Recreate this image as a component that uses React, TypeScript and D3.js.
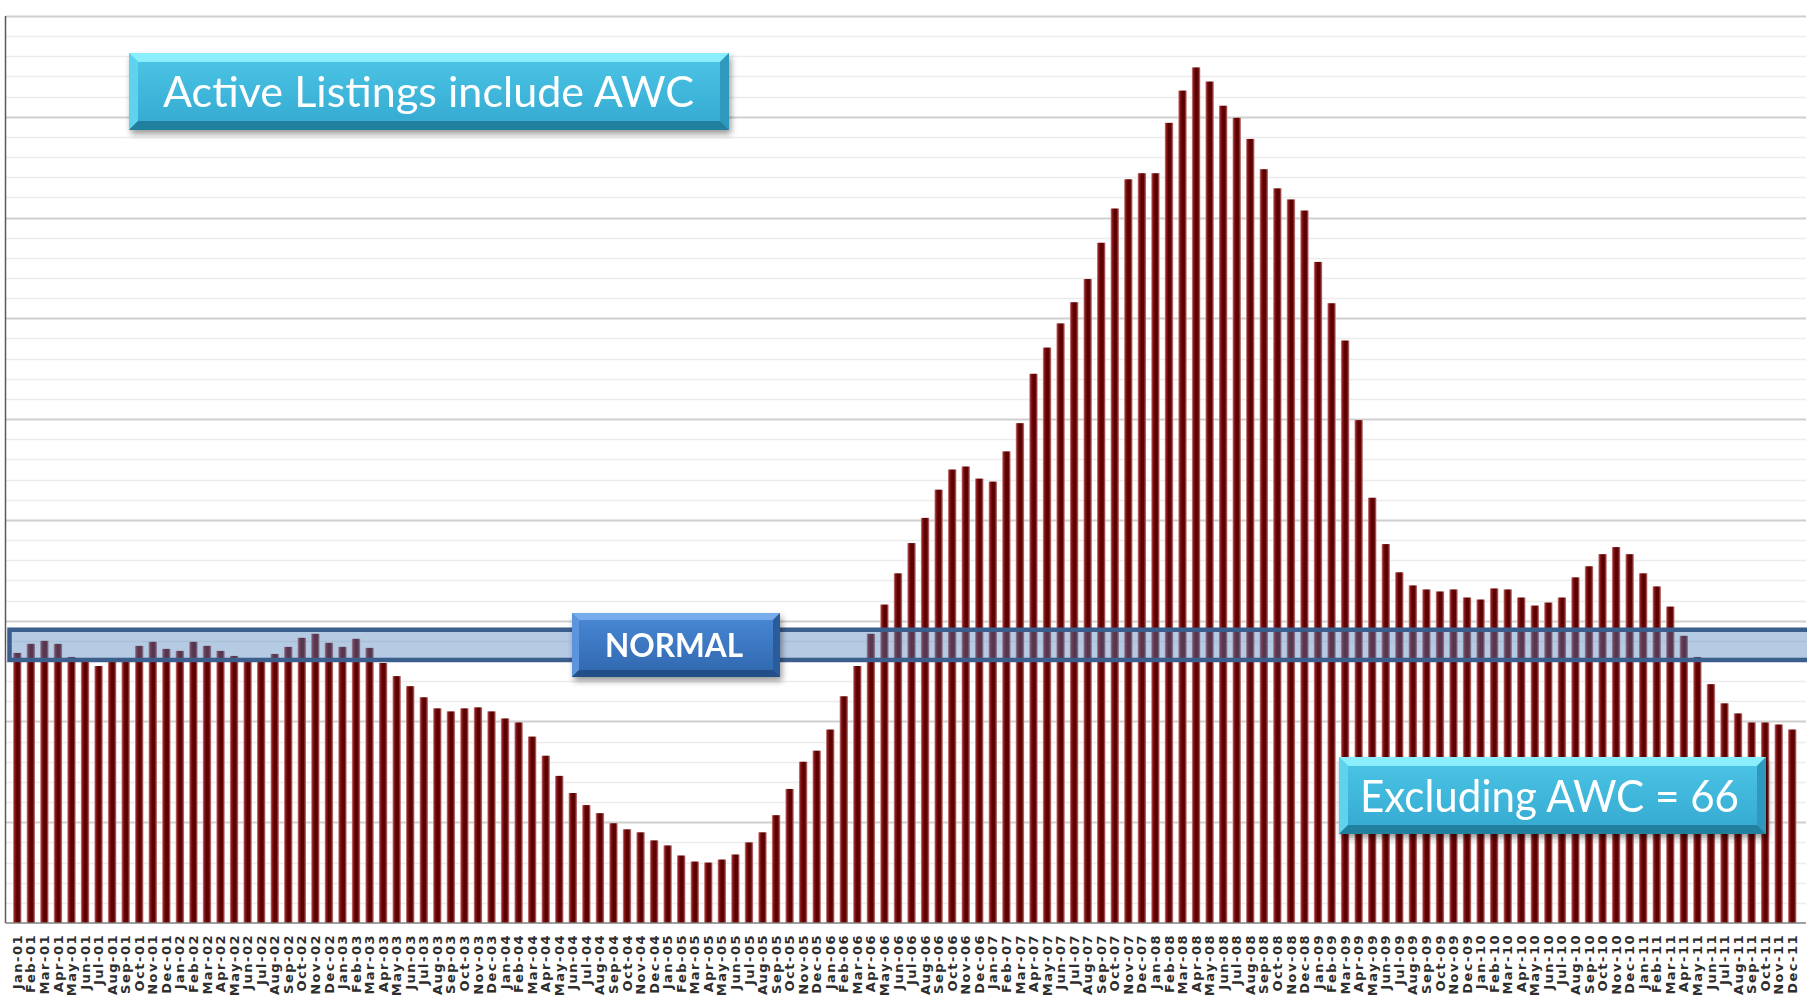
import React from "react";
import * as d3 from "d3";

// month / year tick labels
const MONTHS = ["Jan", "Feb", "Mar", "Apr", "May", "Jun", "Jul", "Aug", "Sep", "Oct", "Nov", "Dec"];
const YEARS = ["01", "02", "03", "04", "05", "06", "07", "08", "09", "10", "11"];

// active listings per month (arbitrary units, no axis labels)
const listings2001 = [268, 277, 280, 277, 264, 260, 255, 259, 259, 275, 279, 272];
const listings2002 = [270, 279, 275, 270, 265, 259, 259, 267, 274, 283, 287, 278];
const listings2003 = [274, 282, 273, 258, 245, 235, 224, 213, 210, 213, 214, 210];
const listings2004 = [203, 199, 185, 166, 146, 129, 117, 109, 99, 93, 90, 82];
const listings2005 = [77, 67, 61, 60, 63, 68, 80, 90, 107, 133, 160, 171];
const listings2006 = [192, 225, 255, 287, 316, 347, 377, 402, 430, 450, 453, 441];
const listings2007 = [438, 468, 496, 545, 571, 595, 616, 639, 675, 709, 738, 744];
const listings2008 = [744, 794, 826, 849, 835, 811, 799, 778, 748, 729, 718, 707];
const listings2009 = [656, 615, 578, 499, 422, 376, 348, 335, 331, 329, 331, 323];
const listings2010 = [321, 332, 331, 323, 315, 318, 323, 343, 354, 366, 373, 366];
const listings2011 = [347, 334, 314, 285, 264, 237, 218, 208, 199, 199, 197, 192];

// "normal" range band
const normalLow = 261;
const normalHigh = 291;

const yMax = 900;
const minorStep = 20;
const majorStep = 100;

const categories = YEARS.flatMap((yr) => MONTHS.map((m) => `${m}-${yr}`));
const values = [
  ...listings2001, ...listings2002, ...listings2003, ...listings2004,
  ...listings2005, ...listings2006, ...listings2007, ...listings2008,
  ...listings2009, ...listings2010, ...listings2011,
];
const data = categories.map((c, i) => ({ month: c, value: values[i] }));

const width = 1807;
const height = 995;
const plotLeft = 5.5;
const plotRight = 1806;
const plotTop = 16;
const plotBottom = 923;

type CalloutProps = {
  x: number; y: number; w: number; h: number;
  text: string; textX: number; baseline: number; textLen: number;
  fontSize: number; bold?: boolean; palette: "cyan" | "blue";
};

function Callout({ x, y, w, h, text, textX, baseline, textLen, fontSize, bold, palette }: CalloutProps) {
  const b = palette === "cyan" ? 9 : 7;
  const c = palette === "cyan"
    ? { top: "#8aeefc", left: "#5fd2ee", right: "#2d98bd", bottom: "#22809f", grad: "gradCyan" }
    : { top: "#76acec", left: "#5b95dc", right: "#2c5c9c", bottom: "#234f88", grad: "gradBlue" };
  return (
    <g filter="url(#shadow)">
      <rect x={x} y={y} width={w} height={h} fill={`url(#${c.grad})`} />
      <polygon points={`${x},${y} ${x + w},${y} ${x + w - b},${y + b} ${x + b},${y + b}`} fill={c.top} />
      <polygon points={`${x},${y} ${x + b},${y + b} ${x + b},${y + h - b} ${x},${y + h}`} fill={c.left} />
      <polygon points={`${x + w},${y} ${x + w},${y + h} ${x + w - b},${y + h - b} ${x + w - b},${y + b}`} fill={c.right} />
      <polygon points={`${x},${y + h} ${x + b},${y + h - b} ${x + w - b},${y + h - b} ${x + w},${y + h}`} fill={c.bottom} />
      <text
        x={textX}
        y={baseline}
        fill="#ffffff"
        fontFamily="Lato, 'Open Sans', sans-serif"
        fontWeight={bold ? 700 : 400}
        fontSize={fontSize}
        textLength={textLen}
        lengthAdjust="spacingAndGlyphs"
      >
        {text}
      </text>
    </g>
  );
}

export default function App() {
  const x = d3.scaleBand<string>()
    .domain(categories)
    .range([10.5, 1799])
    .paddingInner(0.38)
    .paddingOuter(0.19);

  const y = d3.scaleLinear().domain([0, yMax]).range([plotBottom, plotTop]);

  const gridTicks = d3.range(minorStep, yMax + 1, minorStep);

  return (
    <svg
      width={width}
      height={height}
      viewBox={`0 0 ${width} ${height}`}
      style={{ position: "absolute", left: 0, top: 0, background: "#fff", display: "block" }}
    >
      <defs>
        <linearGradient id="barGrad" x1="0" x2="1" y1="0" y2="0">
          <stop offset="0%" stopColor="#d49a9a" />
          <stop offset="18%" stopColor="#8e1c1c" />
          <stop offset="45%" stopColor="#5a0000" />
          <stop offset="75%" stopColor="#620202" />
          <stop offset="100%" stopColor="#c58585" />
        </linearGradient>
        <linearGradient id="gradCyan" x1="0" x2="0" y1="0" y2="1">
          <stop offset="0%" stopColor="#4cc6e6" />
          <stop offset="100%" stopColor="#34a8d0" />
        </linearGradient>
        <linearGradient id="gradBlue" x1="0" x2="0" y1="0" y2="1">
          <stop offset="0%" stopColor="#4a89d6" />
          <stop offset="100%" stopColor="#2f66ad" />
        </linearGradient>
        <filter id="shadow" x="-10%" y="-20%" width="125%" height="160%">
          <feDropShadow dx="2" dy="4" stdDeviation="3" floodColor="#000" floodOpacity="0.4" />
        </filter>
      </defs>

      {/* gridlines */}
      <g>
        {gridTicks.map((t) => (
          <line
            key={t}
            x1={plotLeft}
            x2={plotRight}
            y1={Math.round(y(t)) + 0.5}
            y2={Math.round(y(t)) + 0.5}
            stroke={t % majorStep === 0 ? "#cfcfcf" : "#ececec"}
            strokeWidth={t % majorStep === 0 ? 2 : 1.5}
          />
        ))}
      </g>

      {/* bars */}
      <g>
        {data.map((d) => (
          <rect
            key={d.month}
            x={x(d.month)}
            y={y(d.value)}
            width={x.bandwidth()}
            height={y(0) - y(d.value)}
            fill="url(#barGrad)"
          />
        ))}
      </g>

      {/* axes */}
      <line x1={plotLeft} x2={plotLeft} y1={plotTop} y2={plotBottom} stroke="#5a5a5a" strokeWidth={1.5} />
      <line x1={plotLeft} x2={plotRight} y1={plotBottom} y2={plotBottom} stroke="#808080" strokeWidth={1.5} />

      {/* month labels */}
      <g fontFamily="'DejaVu Sans', Verdana, sans-serif" fontWeight="bold" fontSize={13} fill="#2e2e2e">
        {categories.map((c) => {
          const cx = (x(c) ?? 0) + x.bandwidth() / 2;
          return (
            <text
              key={c}
              transform={`translate(${cx + 4.6},934) rotate(-90)`}
              textAnchor="end"
              letterSpacing={1.5}
            >
              {c}
            </text>
          );
        })}
      </g>

      {/* NORMAL band */}
      <rect
        x={9.5}
        y={y(normalHigh)}
        width={width}
        height={y(normalLow) - y(normalHigh)}
        fill="#4f81bd"
        fillOpacity={0.42}
        stroke="#3b5e8c"
        strokeWidth={4.5}
      />

      <Callout
        x={572} y={613} w={208} h={64}
        text="NORMAL" textX={605} baseline={657} textLen={138}
        fontSize={32.5} bold palette="blue"
      />
      <Callout
        x={129} y={53} w={600} h={77}
        text="Active Listings include AWC" textX={163} baseline={107} textLen={531}
        fontSize={43} palette="cyan"
      />
      <Callout
        x={1339} y={757} w={427} h={77}
        text="Excluding AWC = 66" textX={1360} baseline={812} textLen={379}
        fontSize={44} palette="cyan"
      />
    </svg>
  );
}
